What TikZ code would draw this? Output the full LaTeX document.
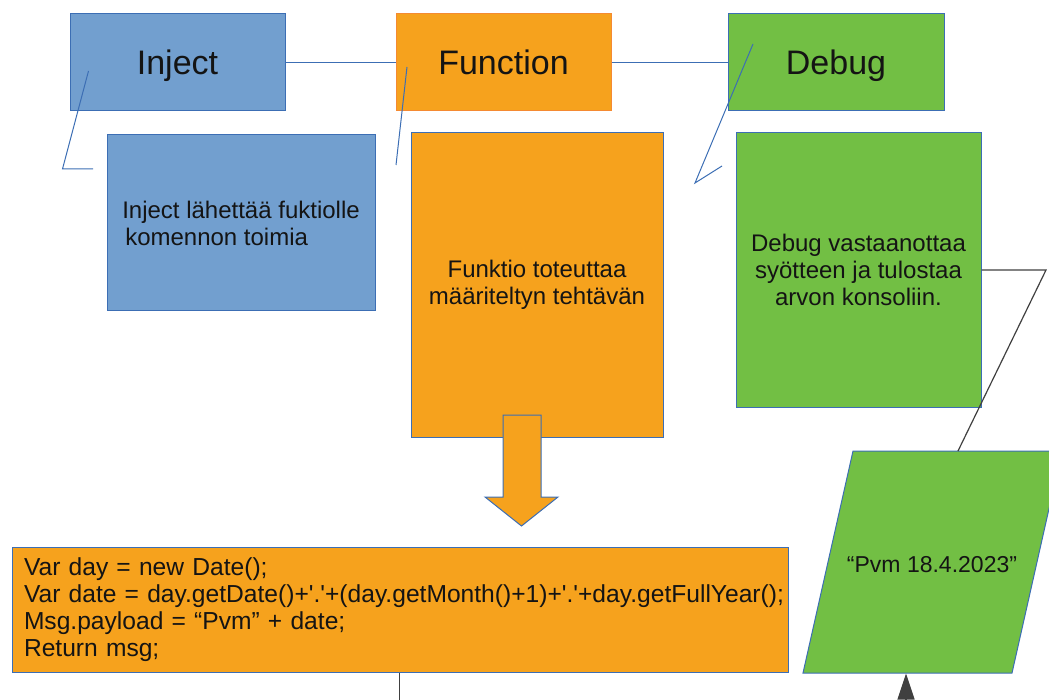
\documentclass[tikz,border=0pt]{standalone}
\usepackage{fontspec}
\setmainfont{Liberation Sans}
\usetikzlibrary{arrows.meta}
\definecolor{bfill}{HTML}{729FCF}
\definecolor{bline}{HTML}{3C6EB4}
\definecolor{ofill}{HTML}{F6A21D}
\definecolor{oline}{HTML}{F58A32}
\definecolor{gfill}{HTML}{72BF44}
\definecolor{txt}{HTML}{141414}
\tikzset{
  title/.style={draw=bline, line width=1pt, minimum width=215pt, minimum height=97pt, inner sep=0pt,
    text height=24pt, text depth=0pt,
    font=\fontsize{34}{40}\selectfont, text=txt},
  desc/.style={draw=bline, line width=1pt, inner sep=0pt, align=center,
    font=\fontsize{24}{27}\selectfont, text=txt},
  link/.style={draw=bline, line width=1pt},
  blk/.style={draw=black!75, line width=1.2pt},
}
\begin{document}
\begin{tikzpicture}[x=1pt,y=1pt]
\useasboundingbox (0,0) rectangle (1049,-700);
\clip (0,0) rectangle (1049,-700);
% title boxes
\node[title, fill=bfill] (inj) at (177.5,-62.5) {Inject};
\node[title, fill=ofill, draw=oline] (fun) at (503.5,-62.5) {Function};
\node[title, fill=gfill, minimum width=216pt] (dbg) at (836,-62.5) {Debug};
\draw[link] (inj.east) -- (fun.west);
\draw[link] (fun.east) -- (dbg.west);
% description boxes
\node[desc, fill=bfill, minimum width=268pt, minimum height=176pt, align=left] (injd) at (241,-223)
  {Inject lähettää fuktiolle\\\hspace*{3pt}komennon toimia};
\node[desc, fill=ofill, minimum width=252pt, minimum height=304pt] (fund) at (537,-285)
  {Funktio toteuttaa\\määriteltyn tehtävän};
\node[desc, fill=gfill, minimum width=245pt, minimum height=274pt] (dbgd) at (858.5,-270)
  {Debug vastaanottaa\\syötteen ja tulostaa\\arvon konsoliin.};
% callout lines
\coordinate (c1a) at (88.5,-71);
\coordinate (c1b) at (62.5,-169);
\coordinate (c1c) at (93,-169);
\draw[link] (c1a) -- (c1b) -- (c1c);
\coordinate (c2a) at (407,-67);
\coordinate (c2b) at (396,-165);
\draw[link] (c2a) -- (c2b);
\coordinate (c3a) at (753,-44);
\coordinate (c3b) at (695,-183);
\coordinate (c3c) at (722,-166);
\draw[link] (c3a) -- (c3b) -- (c3c);
% block arrow
\draw[draw=bline, line width=1pt, fill=ofill, line join=miter]
  (503,-415) -- (541,-415) -- (541,-497) -- (558,-497) -- (521.5,-526) -- (485,-497) -- (503,-497) -- cycle;
% code box
\node[desc, fill=ofill, minimum width=776pt, minimum height=125pt, text width=752pt, align=left,
  font=\fontsize{24.6}{26.8}\selectfont] (code) at (400,-609.5)
  {Var day = new Date();\\
   Var date = day.getDate()+\textquotesingle.\textquotesingle+(day.getMonth()+1)+\textquotesingle.\textquotesingle+day.getFullYear();\\
   Msg.payload = “Pvm” + date;\\
   Return msg;};
% parallelogram
\coordinate (ptl) at (853,-451);
\coordinate (ptr) at (1062,-451);
\coordinate (pbr) at (1012,-673);
\coordinate (pbl) at (803,-673);
\draw[draw=bline, line width=1pt, fill=gfill] (ptl) -- (ptr) -- (pbr) -- (pbl) -- cycle;
\node[text=txt, font=\fontsize{23}{27}\selectfont] (pvm) at (932,-565) {“Pvm 18.4.2023”};
% black connectors
\coordinate (k1) at (1046,-270);
\coordinate (k2) at (958,-451);
\draw[blk] (dbgd.east |- k1) -- (k1) -- (k2);
\coordinate (k3) at (399.5,-700);
\draw[blk] (code.south -| k3) -- (k3);
\coordinate (k4) at (906,-702);
\coordinate (k5) at (906,-673.5);
\draw[blk, -{Triangle[width=17pt,length=26pt]}] (k4) -- (k5);
\end{tikzpicture}
\end{document}
